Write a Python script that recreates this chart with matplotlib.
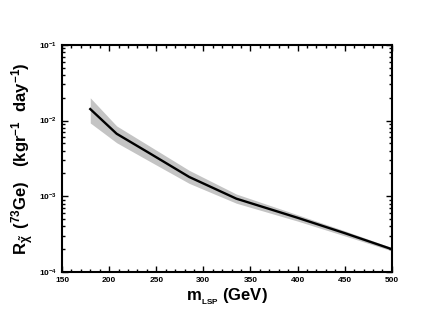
import matplotlib
matplotlib.use("Agg")
import matplotlib.pyplot as plt
from matplotlib.ticker import MultipleLocator, LogLocator, NullFormatter

plt.rcParams['font.family'] = ['Liberation Sans', 'DejaVu Sans']
plt.rcParams['mathtext.fontset'] = 'custom'
plt.rcParams['mathtext.rm'] = 'Liberation Sans:bold'
plt.rcParams['mathtext.bf'] = 'Liberation Sans:bold'
plt.rcParams['mathtext.it'] = 'Liberation Sans:bold'

m_lsp = [180, 208, 243, 285, 335, 400, 450, 500]
rate = [0.0142, 0.0067, 0.0037, 0.0018, 0.00093, 0.00052, 0.000326, 0.0002]
rate_hi = [0.020, 0.0085, 0.0046, 0.0022, 0.00107, 0.00057, 0.00035, 0.00021]
rate_lo = [0.0093, 0.0051, 0.0029, 0.00148, 0.00081, 0.00047, 0.00030, 0.00019]

fig = plt.figure(figsize=(4.32, 3.23), dpi=100)
ax = fig.add_axes([0.1435, 0.158, 0.7635, 0.703])

ax.fill_between(m_lsp, rate_lo, rate_hi, color='#c4c4c4', linewidth=0)
ax.plot(m_lsp, rate, color='black', linewidth=1.7)

ax.set_yscale('log')
ax.set_xlim(150, 500)
ax.set_ylim(1e-4, 1e-1)
ax.xaxis.set_major_locator(MultipleLocator(50))
ax.xaxis.set_minor_locator(MultipleLocator(10))
ax.yaxis.set_major_locator(LogLocator(base=10, numticks=10))
ax.yaxis.set_minor_locator(LogLocator(base=10, subs=range(2, 10), numticks=20))
ax.yaxis.set_minor_formatter(NullFormatter())

ax.tick_params(which='both', direction='in', top=True, right=True, width=1.0)
ax.tick_params(which='major', length=4, labelsize=6)
ax.tick_params(which='minor', length=2)
for lab in ax.get_xticklabels() + ax.get_yticklabels():
    lab.set_fontweight('bold')
for s in ax.spines.values():
    s.set_linewidth(1.5)

ax.set_xlabel(r'$\mathbf{m_{_{LSP}}}$ (GeV)', fontsize=12, fontweight='bold', labelpad=2)
ax.set_ylabel(r'$\mathbf{R_{\tilde{\chi}}\,\ (^{73}Ge)\ \ \ (kgr^{-1}\ \ day^{-1})}$',
              fontsize=12)
ax.yaxis.set_label_coords(-0.078, 0.5)

fig.savefig('out.png', dpi=100)
